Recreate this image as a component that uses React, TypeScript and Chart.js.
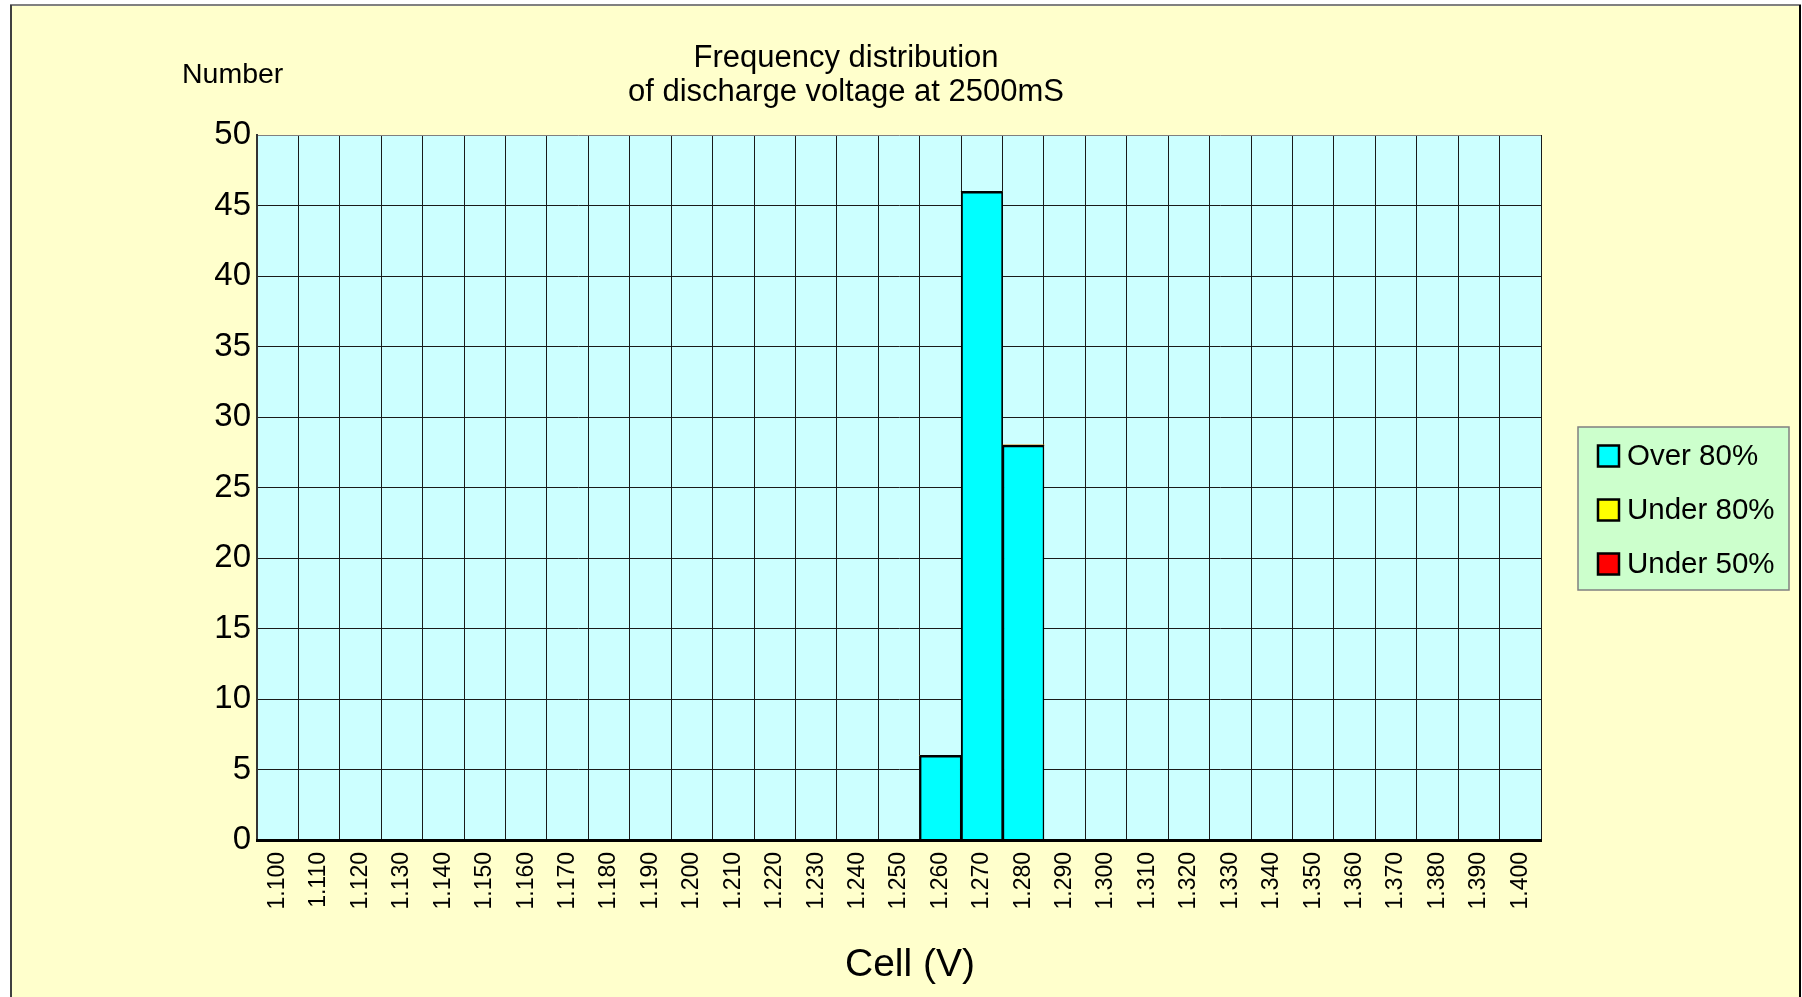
import React, { useEffect, useRef } from 'react';
import { Chart, registerables } from 'chart.js';

Chart.register(...registerables);

const categories = [
  '1.100', '1.110', '1.120', '1.130', '1.140', '1.150', '1.160', '1.170',
  '1.180', '1.190', '1.200', '1.210', '1.220', '1.230', '1.240', '1.250',
  '1.260', '1.270', '1.280', '1.290', '1.300', '1.310', '1.320', '1.330',
  '1.340', '1.350', '1.360', '1.370', '1.380', '1.390', '1.400',
];

const over80 = [
  0, 0, 0, 0, 0, 0, 0, 0, 0, 0, 0, 0, 0, 0, 0, 0,
  6, 46, 28, 0, 0, 0, 0, 0, 0, 0, 0, 0, 0, 0, 0,
];
const under80 = [
  0, 0, 0, 0, 0, 0, 0, 0, 0, 0, 0, 0, 0, 0, 0, 0,
  0, 0, 0, 0, 0, 0, 0, 0, 0, 0, 0, 0, 0, 0, 0,
];
const under50 = [
  0, 0, 0, 0, 0, 0, 0, 0, 0, 0, 0, 0, 0, 0, 0, 0,
  0, 0, 0, 0, 0, 0, 0, 0, 0, 0, 0, 0, 0, 0, 0,
];

const seriesLabels = ['Over 80%', 'Under 80%', 'Under 50%'];
const seriesColors = ['#00FFFF', '#FFFF00', '#FF0000'];

const titleLines = ['Frequency distribution', 'of discharge voltage at 2500mS'];
const yTitle = 'Number';
const xTitle = 'Cell (V)';

const FONT = '"Liberation Sans", Arial, sans-serif';

const decorPlugin = {
  id: 'decor',
  beforeDraw(chart: any) {
    const { ctx, chartArea: a, width, height } = chart;
    ctx.save();
    ctx.fillStyle = '#FFFFFF';
    ctx.fillRect(0, 0, width, height);
    ctx.fillStyle = '#FFFFCC';
    ctx.fillRect(11, 5, 1789, height - 5);
    ctx.lineWidth = 2;
    ctx.strokeStyle = '#808080';
    ctx.beginPath();
    ctx.moveTo(10, 5);
    ctx.lineTo(1801, 5);
    ctx.stroke();
    ctx.strokeStyle = '#404040';
    ctx.beginPath();
    ctx.moveTo(11, 5);
    ctx.lineTo(11, height);
    ctx.stroke();
    ctx.strokeStyle = '#000000';
    ctx.beginPath();
    ctx.moveTo(1800, 5);
    ctx.lineTo(1800, height);
    ctx.stroke();
    ctx.fillStyle = '#CCFFFF';
    ctx.fillRect(a.left, a.top, a.right - a.left, a.bottom - a.top);
    ctx.restore();
  },
  afterDraw(chart: any) {
    const { ctx } = chart;
    ctx.save();
    ctx.fillStyle = '#000000';
    ctx.textBaseline = 'alphabetic';
    ctx.font = `31px ${FONT}`;
    ctx.textAlign = 'center';
    ctx.fillText(titleLines[0], 846, 67);
    ctx.fillText(titleLines[1], 846, 101);
    ctx.font = `28.5px ${FONT}`;
    ctx.textAlign = 'left';
    ctx.fillText(yTitle, 182, 83);
    ctx.font = `39px ${FONT}`;
    ctx.textAlign = 'left';
    ctx.fillText(xTitle, 845, 976);
    const lx = 1578, ly = 427, lw = 211, lh = 163;
    ctx.fillStyle = '#CCFFCC';
    ctx.fillRect(lx, ly, lw, lh);
    ctx.strokeStyle = '#808080';
    ctx.lineWidth = 1.5;
    ctx.strokeRect(lx, ly, lw, lh);
    const datasets = chart.data.datasets;
    ctx.font = `29.5px ${FONT}`;
    ctx.textAlign = 'left';
    ctx.textBaseline = 'middle';
    datasets.forEach((ds: any, i: number) => {
      const cy = 456 + i * 54;
      ctx.fillStyle = ds.backgroundColor;
      ctx.fillRect(1598, cy - 10.5, 21, 21);
      ctx.strokeStyle = '#000000';
      ctx.lineWidth = 2.5;
      ctx.strokeRect(1598, cy - 10.5, 21, 21);
      ctx.fillStyle = '#000000';
      ctx.fillText(ds.label, 1627, cy + 1);
    });
    ctx.restore();
  },
};

export default function App() {
  const canvasRef = useRef<HTMLCanvasElement | null>(null);

  useEffect(() => {
    document.body.style.margin = '0';
    const canvas = canvasRef.current;
    if (!canvas) return;
    const gridColor = (last: number) => (c: any) => (c.index === last ? '#808080' : '#1a1a1a');
    const chart = new Chart(canvas, {
      type: 'bar',
      data: {
        labels: categories,
        datasets: [
          {
            label: seriesLabels[0],
            data: over80,
            backgroundColor: seriesColors[0],
            borderColor: '#000000',
            borderWidth: { top: 2.5, left: 2, right: 1.5, bottom: 0 },
            borderSkipped: false,
            barPercentage: 1,
            categoryPercentage: 1,
          },
          {
            label: seriesLabels[1],
            data: under80,
            backgroundColor: seriesColors[1],
            borderColor: '#000000',
            borderWidth: 0,
            barPercentage: 1,
            categoryPercentage: 1,
          },
          {
            label: seriesLabels[2],
            data: under50,
            backgroundColor: seriesColors[2],
            borderColor: '#000000',
            borderWidth: 0,
            barPercentage: 1,
            categoryPercentage: 1,
          },
        ],
      },
      options: {
        responsive: false,
        animation: false,
        devicePixelRatio: 1,
        layout: { padding: { left: 177, top: 135, right: 261, bottom: 57 } },
        plugins: {
          legend: { display: false },
          title: { display: false },
          tooltip: { enabled: false },
        },
        scales: {
          x: {
            stacked: true,
            offset: true,
            grid: {
              offset: true,
              drawTicks: false,
              color: gridColor(categories.length),
              lineWidth: 1,
            },
            border: { display: true, color: '#000000', width: 3, z: 1 },
            ticks: {
              color: '#000000',
              font: { family: FONT, size: 23 },
              padding: 12,
              minRotation: 90,
              maxRotation: 90,
              autoSkip: false,
            },
            afterFit: (scale: any) => {
              scale.height = 100;
            },
          },
          y: {
            stacked: true,
            min: 0,
            max: 50,
            grid: {
              drawTicks: false,
              color: gridColor(10),
              lineWidth: 1,
            },
            border: { display: true, color: '#333333', width: 2 },
            ticks: {
              stepSize: 5,
              color: '#000000',
              font: { family: FONT, size: 33 },
              padding: 6,
            },
            afterFit: (scale: any) => {
              scale.width = 80;
            },
          },
        },
      },
      plugins: [decorPlugin],
    });
    return () => {
      chart.destroy();
    };
  }, []);

  return (
    <div style={{ width: 1802, height: 997 }}>
      <canvas ref={canvasRef} width={1802} height={997} style={{ display: 'block' }} />
    </div>
  );
}
